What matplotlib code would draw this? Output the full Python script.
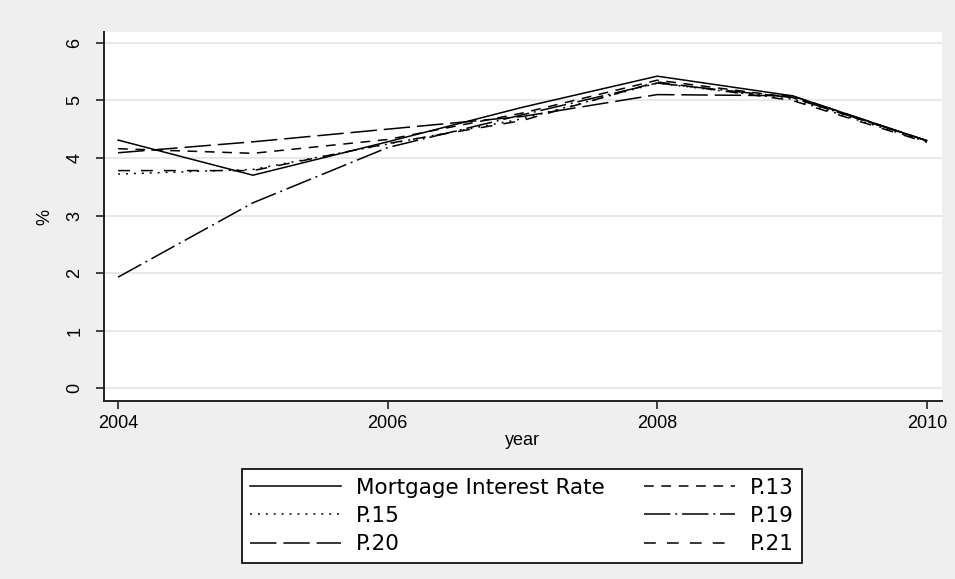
import matplotlib
matplotlib.use("Agg")
import matplotlib.pyplot as plt

# ==================================================
# DATA
# ==================================================
years = [2004, 2005, 2006, 2007, 2008, 2009, 2010]

mortgage = [4.31, 3.70, 4.28, 4.88, 5.42, 5.08, 4.30]
p13 = [4.16, 4.08, 4.32, 4.78, 5.35, 5.05, 4.30]
p15 = [3.72, 3.80, 4.24, 4.68, 5.30, 5.02, 4.28]
p19 = [1.93, 3.22, 4.18, 4.75, 5.30, 5.05, 4.30]
p20 = [4.09, 4.28, 4.50, 4.72, 5.10, 5.08, 4.30]
p21 = [3.78, 3.78, 4.25, 4.65, 5.32, 5.00, 4.27]

x_ticks = [2004, 2006, 2008, 2010]
y_ticks = [0, 1, 2, 3, 4, 5, 6]

# ==================================================
# STYLE
# ==================================================
plt.rcParams['font.family'] = ['Liberation Sans', 'DejaVu Sans']
plt.rcParams['lines.scale_dashes'] = False

BG = "#efefef"
GRID = "#e4e4e4"

series = [
    ("Mortgage Interest Rate", mortgage, "-"),
    ("P.15", p15, (0, (1.4, 4.3))),
    ("P.20", p20, (0, (19, 5))),
    ("P.13", p13, (0, (7, 5.5))),
    ("P.19", p19, (0, (19, 3.5, 1.4, 3.5))),
    ("P.21", p21, (0, (8.5, 8))),
]

# ==================================================
# PLOT
# ==================================================
fig = plt.figure(figsize=(9.55, 5.79), dpi=100, facecolor=BG)
ax = fig.add_axes([0.109, 0.307, 0.877, 0.638])
ax.set_facecolor("white")

handles = []
for label, vals, ls in series:
    h, = ax.plot(years, vals, color="black", linewidth=1.1, linestyle=ls, label=label)
    handles.append(h)

ax.set_xlim(2003.896, 2010.11)
ax.set_ylim(-0.226, 6.19)
ax.set_xticks(x_ticks)
ax.set_yticks(y_ticks)
ax.yaxis.grid(True, color=GRID, linewidth=1.2)
ax.set_axisbelow(True)

for s in ["top", "right"]:
    ax.spines[s].set_visible(False)
for s in ["left", "bottom"]:
    ax.spines[s].set_linewidth(1.4)
    ax.spines[s].set_color("#222222")

ax.tick_params(axis="both", direction="out", length=6, width=1.2,
               labelsize=13, color="#222222")
ax.tick_params(axis="y", pad=9)
ax.tick_params(axis="x", pad=4)
for lab in ax.get_yticklabels():
    lab.set_rotation(90)
    lab.set_va("center")

ax.set_xlabel("year", fontsize=13, labelpad=0)
ax.set_ylabel("%", fontsize=13, labelpad=9)

leg = fig.legend(handles=handles, loc="center", ncol=2,
                 bbox_to_anchor=(522 / 955, 1 - 516 / 579),
                 prop={"family": "DejaVu Sans", "size": 15.5},
                 frameon=True, fancybox=False,
                 edgecolor="black", facecolor="white", framealpha=1,
                 handlelength=4.2, handletextpad=0.7, columnspacing=1.85,
                 labelspacing=0.38, borderpad=0.4)
leg.get_frame().set_linewidth(1.2)

plt.savefig("out.png", dpi=100, facecolor=BG)
plt.close()
